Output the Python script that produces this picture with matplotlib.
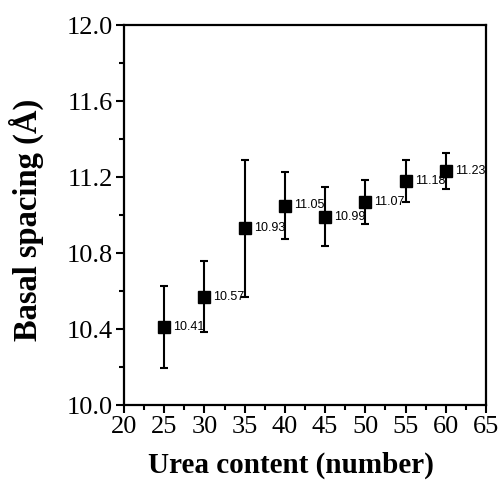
import matplotlib
matplotlib.use("Agg")
import matplotlib.pyplot as plt
from matplotlib.ticker import MultipleLocator

x = [25, 30, 35, 40, 45, 50, 55, 60]
y = [10.41, 10.57, 10.93, 11.05, 10.99, 11.07, 11.18, 11.23]
err = [0.215, 0.187, 0.36, 0.175, 0.155, 0.115, 0.11, 0.095]
labels = ["10.41", "10.57", "10.93", "11.05", "10.99", "11.07", "11.18", "11.23"]

fig = plt.figure(figsize=(5.02, 4.83), dpi=100)
ax = fig.add_axes([124/502, 1-405/483, (486-124)/502, (405-25)/483])

ax.errorbar(x, y, yerr=err, fmt='s', color='black', ms=8, capsize=3,
            elinewidth=1.5, capthick=1.5)
for xi, yi, lab in zip(x, y, labels):
    ax.annotate(lab, (xi, yi), xytext=(6.5, 0), textcoords='offset points',
                ha='left', va='center', fontsize=9, family='Liberation Sans')

ax.set_xlim(20, 65)
ax.set_ylim(10.0, 12.0)
ax.xaxis.set_major_locator(MultipleLocator(5))
ax.xaxis.set_minor_locator(MultipleLocator(2.5))
ax.yaxis.set_major_locator(MultipleLocator(0.4))
ax.yaxis.set_minor_locator(MultipleLocator(0.2))
ax.tick_params(which='both', direction='out', top=False, right=False, width=1.5)
ax.tick_params(which='major', length=6, pad=2)
ax.tick_params(which='minor', length=3.5)
for s in ax.spines.values():
    s.set_linewidth(1.6)
for lab in ax.get_xticklabels() + ax.get_yticklabels():
    lab.set_family('Liberation Serif')
    lab.set_fontsize(19)
ax.set_xlabel('Urea content (number)', family='Liberation Serif', fontsize=21,
              fontweight='bold', va='center')
ax.set_ylabel('Basal spacing (Å)', family='Liberation Serif', fontsize=23.5,
              fontweight='bold', va='center')
ax.xaxis.set_label_coords(0.461, -0.16)
ax.yaxis.set_label_coords(-0.271, 0.487)

fig.savefig('out.png', dpi=100)
